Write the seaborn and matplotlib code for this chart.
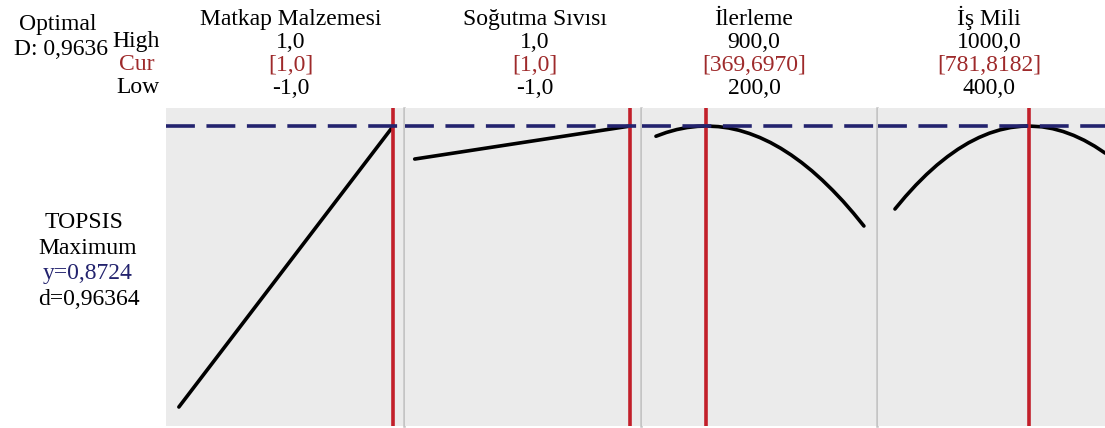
import numpy as np
import pandas as pd
import matplotlib
matplotlib.use("Agg")
import matplotlib.pyplot as plt
import seaborn as sns

# ---------------- data ----------------
factors = ["Matkap Malzemesi", "Soğutma Sıvısı", "İlerleme", "İş Mili"]
high_labels = ["1,0", "1,0", "900,0", "1000,0"]
cur_labels = ["[1,0]", "[1,0]", "[369,6970]", "[781,8182]"]
low_labels = ["-1,0", "-1,0", "200,0", "400,0"]
cur_values = [1.0, 1.0, 369.6970, 781.8182]

matkap_x = [-1.0, 1.0]
matkap_y = [0.350, 0.8724]

sogutma_x = [-1.0, 1.0]
sogutma_y = [0.811, 0.8724]

ilerleme_x = [200, 235, 270, 305, 340, 369.7, 410, 445, 480, 515, 550, 585,
              620, 655, 690, 725, 760, 795, 830, 865, 900]
ilerleme_y = [0.8534, 0.8604, 0.8658, 0.8696, 0.8718, 0.8724, 0.8713, 0.8687,
              0.8644, 0.8584, 0.8509, 0.8418, 0.8310, 0.8186, 0.8046, 0.7890,
              0.7717, 0.7528, 0.7324, 0.7102, 0.6865]

ismili_x = [400, 430, 460, 490, 520, 550, 580, 610, 640, 670, 700, 730, 760,
            781.8, 820, 850, 880, 910, 940, 970, 1000]
ismili_y = [0.7181, 0.7414, 0.7628, 0.7823, 0.7999, 0.8155, 0.8293, 0.8412,
            0.8511, 0.8592, 0.8653, 0.8696, 0.8719, 0.8724, 0.8709, 0.8675,
            0.8622, 0.8550, 0.8459, 0.8349, 0.8220]

y_opt = 0.8724
response_lines = ["TOPSIS", "Maximum", "y=0,8724", "d=0,96364"]
optimal_lines = ["Optimal", "D: 0,9636"]
row_names = ["High", "Cur", "Low"]

# ---------------- style ----------------
sns.set_style("white")
plt.rcParams["font.family"] = ["Liberation Serif", "DejaVu Serif"]

W, H = 1105, 428
fig = plt.figure(figsize=(W / 100, H / 100), dpi=100)

PANEL_BG = "#ebebeb"
SEP = "#c4c4c4"
RED = "#c21f2a"
NAVY = "#23236e"
CURTXT = "#9e2a2b"
FS = 17

# panel pixel extents (left, right)
panels_px = [(166, 404), (405, 641), (642, 877), (878, 1122)]
top_px, bot_px = 108, 426
xlims = [(-1.12, 1.10), (-1.09, 1.10), (153, 944), (351.6, 1048)]
ylim = (0.3147, 0.9059)

series = [(matkap_x, matkap_y), (sogutma_x, sogutma_y),
          (ilerleme_x, ilerleme_y), (ismili_x, ismili_y)]

for i, ((l, r), (xs, ys)) in enumerate(zip(panels_px, series)):
    ax = fig.add_axes([l / W, (H - bot_px) / H, (r - l) / W, (bot_px - top_px) / H])
    ax.set_facecolor(PANEL_BG)
    df = pd.DataFrame({"x": xs, "y": ys})
    sns.lineplot(data=df, x="x", y="y", ax=ax, color="black", linewidth=2.6,
                 sort=True, estimator=None)
    ax.axvline(cur_values[i], color=RED, linewidth=2.6, zorder=3)
    ax.axhline(y_opt, color=NAVY, linewidth=2.6, dashes=(8, 3.2), zorder=4)
    ax.set_xlim(*xlims[i])
    ax.set_ylim(*ylim)
    ax.set_xticks([])
    ax.set_yticks([])
    ax.set_xlabel("")
    ax.set_ylabel("")
    for s in ["top", "bottom", "left"]:
        ax.spines[s].set_visible(False)
    if i < 3:
        ax.spines["right"].set_visible(True)
        ax.spines["right"].set_color(SEP)
        ax.spines["right"].set_linewidth(1.8)
    else:
        ax.spines["right"].set_visible(False)


def ftxt(x, y, s, color="black", ha="center", va="baseline"):
    fig.text(x / W, 1 - y / H, s, color=color, ha=ha, va=va, fontsize=FS)


# header texts
header_cx = [291, 535, 754, 989]
for cx, name, hi, cu, lo in zip(header_cx, factors, high_labels, cur_labels, low_labels):
    ftxt(cx, 25, name)
    ftxt(cx, 48, hi)
    ftxt(cx, 71, cu, color=CURTXT)
    ftxt(cx, 94, lo)

ftxt(58, 30, optimal_lines[0])
ftxt(61, 55, optimal_lines[1])
ftxt(136, 47, row_names[0])
ftxt(137, 70, row_names[1], color=CURTXT)
ftxt(138, 93, row_names[2])

resp_y = [228, 254, 279, 305]
resp_x = [84, 88, 88, 89]
resp_col = ["black", "black", NAVY, "black"]
for s, yy, xx, c in zip(response_lines, resp_y, resp_x, resp_col):
    ftxt(xx, yy, s, color=c)

fig.savefig("out.png", dpi=100, facecolor="white")
